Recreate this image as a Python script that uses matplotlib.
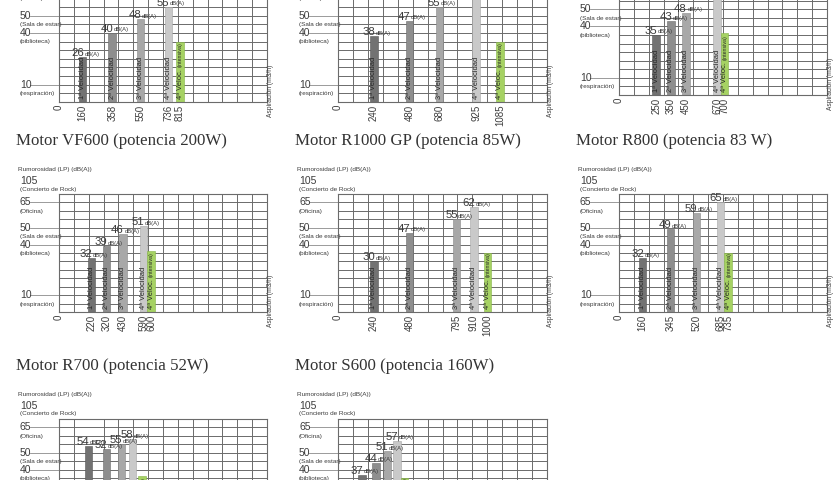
import numpy as np
import matplotlib
matplotlib.use("Agg")
import matplotlib.pyplot as plt

plt.rcParams['font.family'] = ['Liberation Sans Narrow', 'Liberation Sans', 'DejaVu Sans']

# ---------------- data ----------------
titles = [None, None, None,
          "Motor VF600 (potencia 200W)", "Motor R1000 GP (potencia 85W)", "Motor R800 (potencia 83 W)",
          "Motor R700 (potencia 52W)", "Motor S600 (potencia 160W)"]

flow_p1 = [160, 358, 550, 736, 815]
flow_p2 = [240, 480, 680, 925, 1085]
flow_p3 = [250, 350, 450, 670, 700]
flow_vf600 = [220, 320, 430, 590, 600]
flow_r1000 = [240, 480, 795, 910, 1000]
flow_r800 = [160, 345, 520, 685, 735]
flow_r700 = [200, 320, 420, 495, 560]
flow_s600 = [160, 255, 330, 395, 445]

noise_p1 = [26, 40, 48, 55, 35]
noise_p2 = [38, 47, 55, 63, 35]
noise_p3 = [35, 43, 48, 60, 36]
noise_vf600 = [32, 39, 46, 51, 36]
noise_r1000 = [30, 47, 55, 62, 35]
noise_r800 = [32, 49, 59, 65, 35]
noise_r700 = [54, 52, 55, 58, 36]
noise_s600 = [37, 44, 51, 57, 35]

flows = [flow_p1, flow_p2, flow_p3, flow_vf600, flow_r1000, flow_r800, flow_r700, flow_s600]
noises = [noise_p1, noise_p2, noise_p3, noise_vf600, noise_r1000, noise_r800, noise_r700, noise_s600]

speed_labels = ["1ª Velocidad", "2ª Velocidad", "3ª Velocidad", "4ª Velocidad", "4ª Veloc."]
green_note = "(intensiva)"
ref_levels = [10, 40, 50, 65]
ref_names = ["(respiración)", "(biblioteca)", "(Sala de estar)", "(Oficina)"]
top_level = "105"
top_name = "(Concierto de Rock)"
y_title = "Rumorosidad (LP) (dB(A))"
x_title = "Aspiración (m3/h)"
unit = "dB(A)"

# ---------------- style / layout ----------------
W_PX, H_PX = 840, 480
bar_colors = ['#727272', '#8e8e8e', '#a8a8a8', '#c9c9c9', '#a6d263']
bar_edges = ['#575757', '#6c6c6c', '#888888', '#a6a6a6', '#86b446']
GRID = '#6b6b6b'
TXT = '#3c3c3c'
BAR_W = 50

# grid boxes in pixels: left, top, width, height
boxes = [(59, -19, 208, 121), (338, -19, 209, 121), (619, -25, 208, 120),
         (59, 194, 208, 118), (338, 194, 209, 118), (619, 194, 208, 118),
         (59, 419, 208, 118), (338, 419, 209, 118)]

fig = plt.figure(figsize=(W_PX / 100, H_PX / 100), dpi=100)
fig.patch.set_facecolor('white')


def draw_panel(box, title, fl, nz):
    l, t, w, h = box
    ax = fig.add_axes([l / W_PX, 1 - (t + h) / H_PX, w / W_PX, h / H_PX])
    ax.set_xlim(0, 1400)
    ax.set_ylim(0, 70)
    ax.set_axisbelow(True)
    ax.set_xticks(np.arange(0, 1401, 100), minor=True)
    ax.set_yticks(np.arange(0, 71, 5), minor=True)
    ax.set_yticks([])
    ax.grid(True, which='minor', color=GRID, lw=0.7)
    ax.tick_params(which='both', length=0)
    for s in ax.spines.values():
        s.set_color(GRID)
        s.set_linewidth(0.8)

    pos = list(fl)
    if pos[4] - pos[3] < BAR_W:
        mid = (pos[3] + pos[4]) / 2
        pos[3], pos[4] = mid - BAR_W / 2, mid + BAR_W / 2

    ax.bar(pos, nz, width=BAR_W, color=bar_colors, edgecolor=bar_edges, linewidth=0.4, zorder=2)

    ax.set_xticks([0] + pos, ['0'] + [str(v) for v in fl])
    ax.tick_params(axis='x', which='major', pad=2, labelsize=7, labelcolor=TXT, labelrotation=90)

    # labels inside bars
    last = None
    for i in range(5):
        last = ax.annotate(speed_labels[i], xy=(pos[i], 0), xycoords='data',
                           xytext=(0, 3), textcoords='offset pixels',
                           rotation=90, ha='center', va='bottom', fontsize=5.4, color='#262626',
                           zorder=3)
    ax.annotate(green_note, xy=(0.5, 1), xycoords=last, xytext=(0.5, 2), textcoords='offset pixels',
                rotation=90, ha='center', va='bottom', fontsize=3.8, color='#262626', zorder=3)

    # value labels above bars (not green)
    for i in range(4):
        num = ax.annotate(str(nz[i]), xy=(pos[i], nz[i]), xycoords='data', xytext=(1, 1),
                          textcoords='offset pixels', ha='right', va='baseline', fontsize=8.2,
                          color=TXT, annotation_clip=False)
        ax.annotate(unit, xy=(1, 0), xycoords=num, xytext=(0.5, 1.5),
                    textcoords='offset pixels', ha='left', va='bottom', fontsize=4.2, color=TXT,
                    annotation_clip=False)

    # reference levels on the left
    for lv, nm in zip(ref_levels, ref_names):
        ax.annotate(str(lv), xy=(0, lv), xycoords=('axes fraction', 'data'), xytext=(-39, 0),
                    textcoords='offset pixels', ha='left', va='center', fontsize=7.5, color=TXT,
                    family=['Liberation Sans', 'DejaVu Sans'], annotation_clip=False)
        ax.annotate(nm, xy=(0, lv), xycoords=('axes fraction', 'data'), xytext=(-39, -9),
                    textcoords='offset pixels', ha='left', va='center', fontsize=4.6, color=TXT,
                    annotation_clip=False)
        ax.plot([-29 / w, 0], [lv, lv], transform=ax.get_yaxis_transform(), color='#8a8a8a',
                lw=0.6, clip_on=False)

    ax.annotate(top_level, xy=(0, 1), xycoords='axes fraction', xytext=(-39, 13),
                textcoords='offset pixels', ha='left', va='center', fontsize=7.5, color=TXT,
                family=['Liberation Sans', 'DejaVu Sans'])
    ax.annotate(top_name, xy=(0, 1), xycoords='axes fraction', xytext=(-39, 5),
                textcoords='offset pixels', ha='left', va='center', fontsize=4.6, color=TXT)
    ax.annotate(y_title, xy=(0, 1), xycoords='axes fraction', xytext=(-41, 24),
                textcoords='offset pixels', ha='left', va='center', fontsize=4.6, color=TXT)
    ax.annotate(x_title, xy=(1, 0), xycoords='axes fraction', xytext=(4, 11),
                textcoords='offset pixels', ha='center', va='center', rotation=90,
                fontsize=4.8, color=TXT, annotation_clip=False)
    if title:
        ax.annotate(title, xy=(0, 1), xycoords='axes fraction', xytext=(-43, 53),
                    textcoords='offset pixels', ha='left', va='center', fontsize=12.2,
                    color='#333333', family=['Liberation Serif', 'DejaVu Serif'])
    return ax


for b, ttl, fl, nz in zip(boxes, titles, flows, noises):
    draw_panel(b, ttl, fl, nz)

fig.savefig('out.png', dpi=100, facecolor='white')
